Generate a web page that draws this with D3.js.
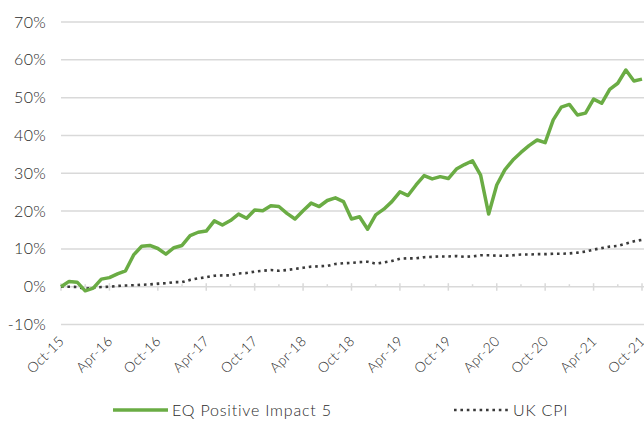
<!DOCTYPE html>
<html>
<head>
<meta charset="utf-8">
<script src="https://cdn.jsdelivr.net/npm/d3@7"></script>
<style>
  body { margin: 0; background: #fff; }
  text { font-family: Lato, "Open Sans", sans-serif; font-weight: 300; fill: #2b2b2b; }
</style>
</head>
<body>
<svg id="chart" width="644" height="423"></svg>
<script>
// monthly points, Oct-15 .. Oct-21
const startMonth = new Date(2015, 9, 1);
const fundValues = [0.0, 1.4, 1.2, -1.1, -0.4, 2.0, 2.4, 3.4, 4.2, 8.4, 10.7, 10.9,
  10.1, 8.6, 10.3, 10.9, 13.5, 14.4, 14.7, 17.4, 16.3, 17.5, 19.2, 18.1,
  20.3, 20.1, 21.4, 21.2, 19.4, 17.9, 20.1, 22.1, 21.2, 22.8, 23.5, 22.5,
  17.9, 18.5, 15.2, 19.0, 20.5, 22.5, 25.1, 24.1, 26.9, 29.4, 28.5, 29.1,
  28.6, 31.1, 32.3, 33.3, 29.5, 19.2, 26.9, 30.9, 33.5, 35.5, 37.3, 38.8,
  38.1, 44.1, 47.5, 48.2, 45.4, 45.9, 49.6, 48.5, 52.2, 53.8, 57.3, 54.4, 54.9];
const cpiValues = [0.0, 0.0, -0.1, -0.5, -0.3, -0.1, 0.0, 0.2, 0.3, 0.4, 0.5, 0.6,
  0.8, 0.9, 1.2, 1.2, 1.8, 2.2, 2.5, 2.9, 3.0, 3.0, 3.5, 3.6,
  4.0, 4.2, 4.4, 4.2, 4.4, 4.7, 5.0, 5.3, 5.4, 5.5, 6.0, 6.2,
  6.3, 6.5, 6.6, 6.1, 6.4, 6.8, 7.4, 7.5, 7.5, 7.8, 7.9, 8.0,
  8.0, 8.1, 7.9, 8.0, 8.3, 8.3, 8.2, 8.2, 8.3, 8.5, 8.5, 8.6,
  8.6, 8.7, 8.7, 8.8, 9.0, 9.3, 9.8, 10.2, 10.6, 10.8, 11.4, 12.0, 12.4];
const tickLabels = ["Oct-15", "Apr-16", "Oct-16", "Apr-17", "Oct-17", "Apr-18", "Oct-18",
  "Apr-19", "Oct-19", "Apr-20", "Oct-20", "Apr-21", "Oct-21"];
const yTicks = [-10, 0, 10, 20, 30, 40, 50, 60, 70];
const seriesNames = ["EQ Positive Impact 5", "UK CPI"];

const months = d3.range(fundValues.length).map(i => d3.timeMonth.offset(startMonth, i));

const svg = d3.select("#chart");

const x = d3.scalePoint().domain(months).range([61, 642]);
const y = d3.scaleLinear().domain([-10, 70]).range([324.5, 22]);

// gridlines
svg.append("g")
  .selectAll("line")
  .data(yTicks)
  .join("line")
    .attr("x1", 61).attr("x2", 644)
    .attr("y1", d => y(d)).attr("y2", d => y(d))
    .attr("stroke", "#d9d9d9")
    .attr("stroke-width", 1.5);

// y labels
svg.append("g")
  .selectAll("text")
  .data(yTicks)
  .join("text")
    .attr("x", 46)
    .attr("y", d => y(d))
    .attr("dy", "0.35em")
    .attr("text-anchor", "end")
    .style("font-size", "16px")
    .style("letter-spacing", "0.3px")
    .text(d => d + "%");

// tick marks on the 0% line, every 3 months (major every 6)
const y0 = y(0);
svg.append("g")
  .selectAll("line")
  .data(months.filter((d, i) => i % 3 === 0))
  .join("line")
    .attr("x1", d => x(d)).attr("x2", d => x(d))
    .attr("y1", (d, i) => i % 2 === 0 ? y0 - 3.5 : y0 - 2.5)
    .attr("y2", (d, i) => i % 2 === 0 ? y0 + 4 : y0)
    .attr("stroke", "#d9d9d9")
    .attr("stroke-width", 1.5);

// x labels
svg.append("g")
  .selectAll("text")
  .data(months.filter((d, i) => i % 6 === 0))
  .join("text")
    .attr("text-anchor", "end")
    .attr("transform", d => `translate(${x(d) + 4},342) rotate(-45)`)
    .style("font-size", "14px")
    .style("letter-spacing", "0.3px")
    .text((d, i) => tickLabels[i]);

const line = d3.line()
  .x((d, i) => x(months[i]))
  .y(d => y(d));

svg.append("path")
  .datum(cpiValues)
  .attr("fill", "none")
  .attr("stroke", "#3a3a3a")
  .attr("stroke-width", 2.6)
  .attr("stroke-dasharray", "2.6,3.8")
  .attr("d", line);

svg.append("path")
  .datum(fundValues)
  .attr("fill", "none")
  .attr("stroke", "#6aac44")
  .attr("stroke-width", 3.5)
  .attr("stroke-linejoin", "round")
  .attr("d", line);

// legend
const legend = svg.append("g");
const legendItems = [
  { name: seriesNames[0], x: 113, color: "#6aac44", width: 3.5, dash: null },
  { name: seriesNames[1], x: 454, color: "#3a3a3a", width: 2.6, dash: "2.6,3.8" }
];
legendItems.forEach(it => {
  legend.append("line")
    .attr("x1", it.x).attr("x2", it.x + 55)
    .attr("y1", 410).attr("y2", 410)
    .attr("stroke", it.color)
    .attr("stroke-width", it.width)
    .attr("stroke-dasharray", it.dash);
  legend.append("text")
    .attr("x", it.x + 59)
    .attr("y", 410)
    .attr("dy", "0.35em")
    .style("font-size", "16px")
    .style("letter-spacing", "0.8px")
    .text(it.name);
});
</script>
</body>
</html>
